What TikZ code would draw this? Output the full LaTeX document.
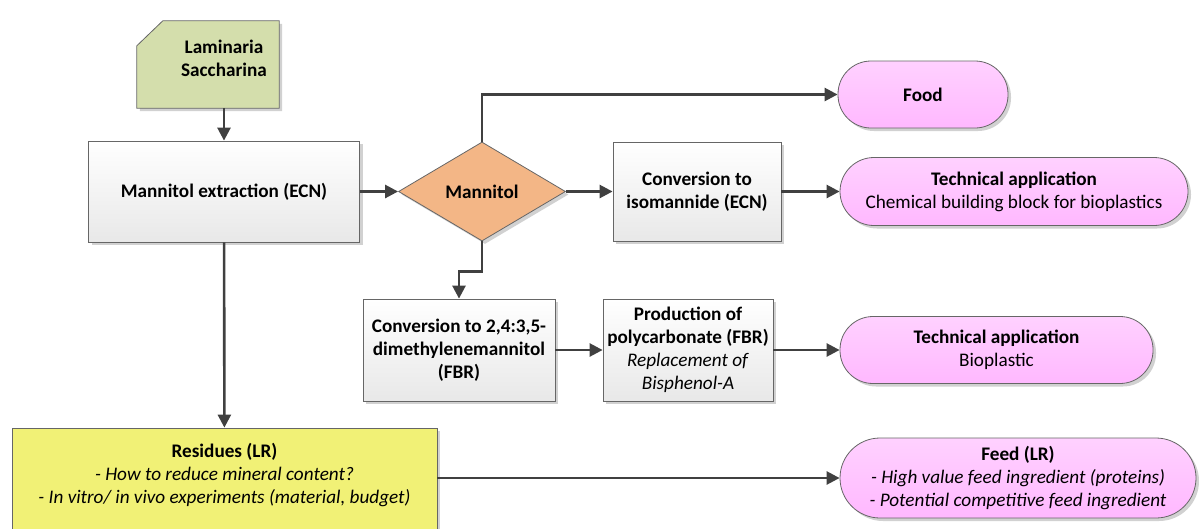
\documentclass[tikz,border=0pt]{standalone}
\usepackage{fontspec}
\setmainfont{Carlito}
\usetikzlibrary{arrows.meta,shapes.geometric,shadows,calc,backgrounds}

\definecolor{kelpgreen}{RGB}{212,222,172}
\definecolor{mannorange}{RGB}{243,182,134}
\definecolor{resyellow}{RGB}{241,241,118}
\definecolor{appink}{RGB}{255,184,255}
\definecolor{linegray}{RGB}{64,64,64}

\begin{document}
\begin{tikzpicture}[x=1pt, y=-1pt,
  font=\fontsize{19.2}{23}\selectfont,
  shade/.style={drop shadow={shadow xshift=3pt, shadow yshift=-3pt, fill=black, opacity=.18}},
  box/.style={draw=black!60, line width=0.8pt, align=center, inner sep=0pt,
    top color=white, bottom color=black!9, shade},
  decis/.style={diamond, draw=black!60, line width=0.8pt, inner sep=0pt,
    fill=mannorange, font=\fontsize{19.2}{23}\selectfont\bfseries, shade},
  term/.style={draw=black!60, line width=0.8pt, align=center, inner sep=0pt,
    top color=appink!65, bottom color=appink, shade},
  arrow/.style={-{Triangle[length=13pt, width=13pt]}, line width=2.6pt, draw=linegray}
]
\useasboundingbox (0,0) rectangle (1199,528);

% source shape with cut corner
\node[inner sep=0pt, minimum width=142pt, minimum height=87pt,
  label={[font=\fontsize{19.2}{23}\selectfont\bfseries, align=center, xshift=16pt, yshift=6pt]center:Laminaria\\Saccharina}]
  (kelp) at (208,64.5) {};
\begin{scope}[on background layer]
\filldraw[draw=black!60, line width=0.8pt, fill=kelpgreen, shade]
  ($(kelp.north west)+(0,25)$) -- ($(kelp.north west)+(26,0)$) -- (kelp.north east)
  -- (kelp.south east) -- (kelp.south west) -- cycle;
\end{scope}

\node[box, minimum width=271pt, minimum height=101pt, font=\fontsize{19.2}{23}\selectfont\bfseries]
  (extract) at (224,191.5) {Mannitol extraction (ECN)};
\node[decis, minimum width=167pt, minimum height=99pt] (mannitol) at (482,191.5) {Mannitol};
\node[box, minimum width=168pt, minimum height=99pt, font=\fontsize{19.2}{23}\selectfont\bfseries]
  (iso) at (697,191.5) {Conversion to\\isomannide (ECN)};

\node[term, rounded corners=33pt, minimum width=170pt, minimum height=67pt] (food) at (923,94.5) {\textbf{Food}};
\node[term, rounded corners=34pt, minimum width=348pt, minimum height=68pt] (techA) at (1014,191.5)
  {\textbf{Technical application}\\Chemical building block for bioplastics};

\node[box, minimum width=192pt, minimum height=102pt, font=\fontsize{19.2}{23}\selectfont\bfseries]
  (dmm) at (459,350) {Conversion to 2,4:3,5-\\dimethylenemannitol\\(FBR)};
\node[box, minimum width=170pt, minimum height=102pt] (poly) at (688,350)
  {\textbf{Production of}\\\textbf{polycarbonate (FBR)}\\\textit{Replacement of}\\\textit{Bisphenol-A}};
\node[term, rounded corners=33pt, minimum width=313pt, minimum height=67pt] (techB) at (996.5,350)
  {\textbf{Technical application}\\Bioplastic};

\node[box, top color=resyellow, bottom color=resyellow, minimum width=425pt, minimum height=115pt,
  label={[align=center, yshift=10.5pt]center:\textbf{Residues (LR)}\\\textit{- How to reduce mineral content?}\\\textit{- In vitro/ in vivo experiments (material, budget)}}]
  (resid) at (224.5,485.5) {};
\node[term, rounded corners=40pt, minimum width=356pt, minimum height=80pt] (feed) at (1018,478)
  {\textbf{Feed (LR)}\\\textit{- High value feed ingredient (proteins)}\\\textit{- Potential competitive feed ingredient}};

% connectors
\draw[arrow] (extract.north |- kelp.south) -- (extract.north);
\draw[arrow] (extract) -- (mannitol);
\draw[arrow] (mannitol.north) |- (food.west);
\draw[arrow] (mannitol) -- (iso);
\draw[arrow] (iso) -- (techA);
\draw[arrow] (mannitol.south) -- ++(0,30) -| (dmm.north);
\draw[arrow] (dmm) -- (poly);
\draw[arrow] (poly) -- (techB);
\draw[arrow] (extract) -- (resid);
\draw[arrow] (resid.east |- feed.west) -- (feed.west);

\end{tikzpicture}
\end{document}
